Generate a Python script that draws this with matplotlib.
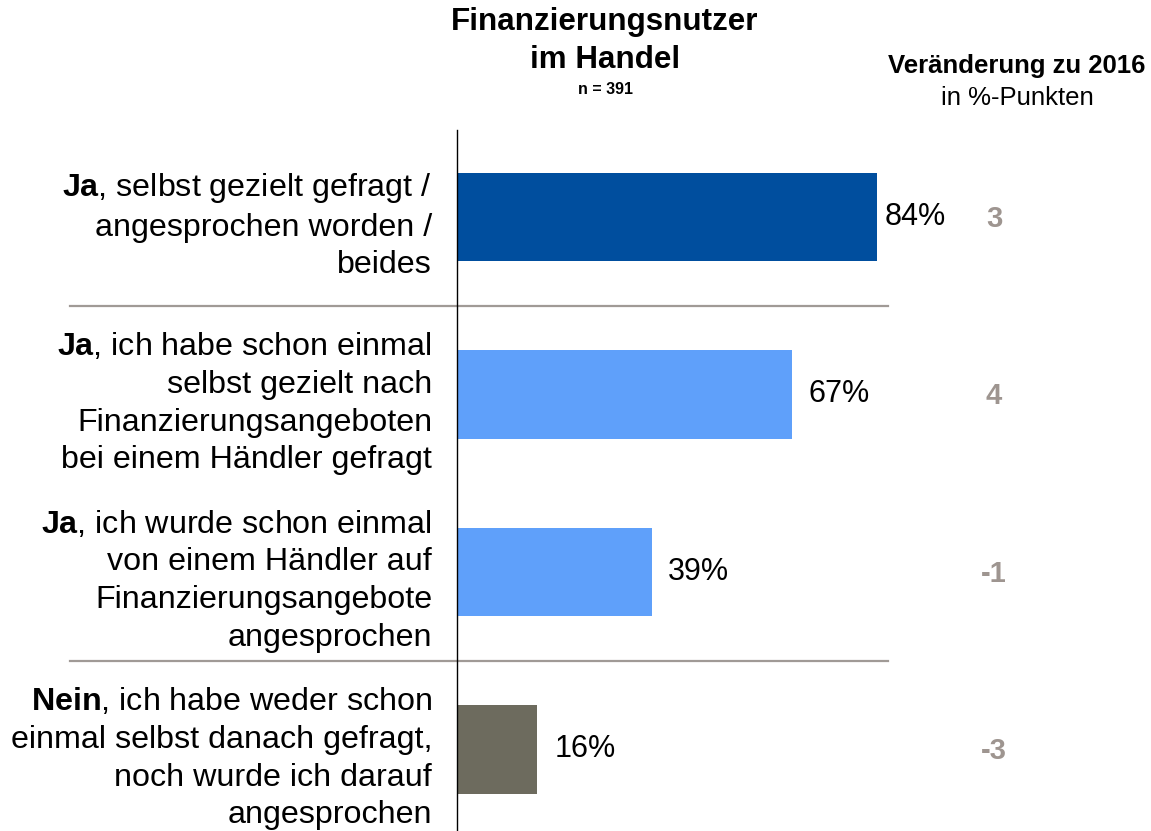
import matplotlib
matplotlib.use("Agg")
import matplotlib.pyplot as plt
import matplotlib.transforms as mtransforms


labels = [
    "$\\bf{Ja}$, selbst gezielt gefragt /\nangesprochen worden /\nbeides",
    "$\\bf{Ja}$, ich habe schon einmal\nselbst gezielt nach\nFinanzierungsangeboten\nbei einem Händler gefragt",
    "$\\bf{Ja}$, ich wurde schon einmal\nvon einem Händler auf\nFinanzierungsangebote\nangesprochen",
    "$\\bf{Nein}$, ich habe weder schon\neinmal selbst danach gefragt,\nnoch wurde ich darauf\nangesprochen",
]
values = [84, 67, 39, 16]
changes = ["3", "4", "-1", "-3"]
bar_colors = ["#004E9E", "#5FA0FA", "#5FA0FA", "#6D6B5E"]
value_offsets = [1.6, 3.2, 3.2, 3.6]

plt.rcParams["font.family"] = ["Liberation Sans", "DejaVu Sans"]
plt.rcParams["mathtext.fontset"] = "custom"
plt.rcParams["mathtext.rm"] = "Liberation Sans"
plt.rcParams["mathtext.bf"] = "Liberation Sans:bold"


def main():
    fig = plt.figure(figsize=(11.51, 8.31), dpi=100)
    ax = fig.add_axes([457 / 1151, 0, 500 / 1151, 701 / 831])

    positions = list(range(len(values)))
    ax.barh(positions, values, height=0.5, color=bar_colors)
    ax.set_xlim(0, 100)
    ax.set_ylim(3.46, -0.49)

    for side in ["top", "right", "bottom"]:
        ax.spines[side].set_visible(False)
    ax.spines["left"].set_linewidth(1.0)
    ax.set_xticks([])
    ax.set_yticks([])

    for pos, label, value, offset, change in zip(positions, labels, values, value_offsets, changes):
        ax.text(-5, pos + 0.05, label, ha="right", va="center", fontsize=23.2,
                linespacing=1.33, clip_on=False)
        ax.text(value + offset, pos, f"{value}%", ha="left", va="center", fontsize=22)
        ax.text(107.4, pos + 0.01, change, ha="center", va="center", fontsize=21,
                fontweight="bold", color="#9E9590", clip_on=False)

    # Trennlinien zwischen den Gruppen
    trans = mtransforms.blended_transform_factory(fig.transFigure, ax.transData)
    for y in [0.5, 2.5]:
        ax.plot([70 / 1151, 888 / 1151], [y, y], transform=trans, color="#A09A96",
                linewidth=1.6, clip_on=False)

    fig.text(605 / 1151, 1 - 22 / 831, "Finanzierungsnutzer", ha="center", va="center",
             fontsize=22.6, fontweight="bold")
    fig.text(605 / 1151, 1 - 60 / 831, "im Handel", ha="center", va="center",
             fontsize=22.6, fontweight="bold")
    fig.text(605 / 1151, 1 - 90 / 831, "n = 391", ha="center", va="center",
             fontsize=11.5, fontweight="bold")
    fig.text(1017 / 1151, 1 - 66 / 831, "Veränderung zu 2016", ha="center", va="center",
             fontsize=18.5, fontweight="bold")
    fig.text(1017 / 1151, 1 - 98 / 831, "in %-Punkten", ha="center", va="center",
             fontsize=18.5)

    fig.savefig("out.png", dpi=100)
    plt.close(fig)


if __name__ == "__main__":
    main()
